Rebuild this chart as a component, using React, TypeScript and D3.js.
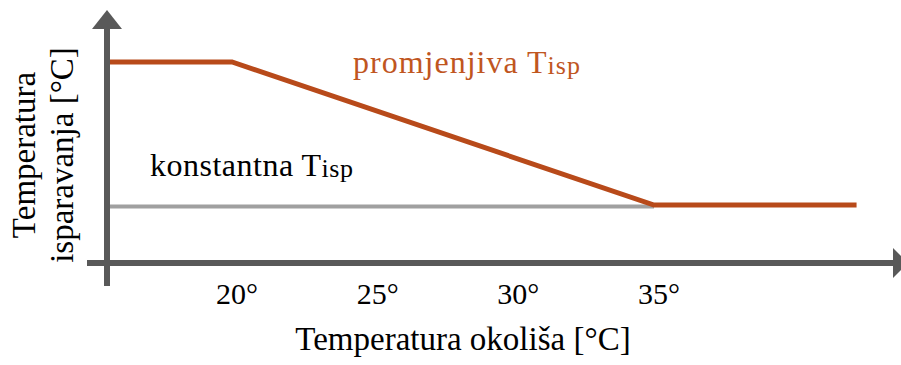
import React from "react";
import * as d3 from "d3";

const xTicks = [20, 25, 30, 35];
const xTickLabels = ["20°", "25°", "30°", "35°"];
const variableX = [15.66, 20, 35, 42.2];
const variableY = [1, 1, 0, 0];
const constantX = [15.66, 35];
const constantY = [-0.01, -0.01];

const W = 901;
const H = 365;
const FONT = "'Liberation Serif', 'Times New Roman', serif";

export default function App() {
  const x = d3.scaleLinear().domain([20, 35]).range([232, 654]);
  const y = d3.scaleLinear().domain([0, 1]).range([205, 62]);
  const line = d3
    .line<[number, number]>()
    .x((d) => x(d[0]))
    .y((d) => y(d[1]));
  const varPts = variableX.map((v, i) => [v, variableY[i]] as [number, number]);
  const constPts = constantX.map((v, i) => [v, constantY[i]] as [number, number]);

  const axisColor = "#595959";
  const orange = "#B84A1A";
  const yAxisX = 107;
  const xAxisY = 263;

  return (
    <svg
      width={W}
      height={H}
      style={{ position: "absolute", left: 0, top: 0, background: "#fff" }}
      fontFamily={FONT}
    >
      {/* data lines */}
      <path d={line(constPts) || ""} fill="none" stroke="#A0A0A0" strokeWidth={4} />
      <path d={line(varPts) || ""} fill="none" stroke={orange} strokeWidth={5} />

      {/* axes */}
      <line x1={yAxisX} x2={yAxisX} y1={286} y2={28} stroke={axisColor} strokeWidth={6} />
      <polygon
        points={`${yAxisX - 15},${29} ${yAxisX + 15},${29} ${yAxisX},${10}`}
        fill={axisColor}
      />
      <line x1={87} x2={893} y1={xAxisY} y2={xAxisY} stroke={axisColor} strokeWidth={6} />
      <polygon
        points={`${893},${xAxisY - 15} ${893},${xAxisY + 15} ${908},${xAxisY}`}
        fill={axisColor}
      />

      {/* tick labels */}
      {xTicks.map((t, i) => (
        <text key={t} x={x(t) - 16} y={304} fontSize={30} fill="#000">
          {xTickLabels[i]}
        </text>
      ))}

      {/* axis titles */}
      <text x={463} y={350} fontSize={33} textAnchor="middle" fill="#000">
        Temperatura okoliša [°C]
      </text>
      <g transform="translate(0,155) rotate(-90)">
        <text x={0} y={35} fontSize={33} textAnchor="middle" fill="#000">
          Temperatura
        </text>
        <text x={0} y={73} fontSize={33} textAnchor="middle" fill="#000">
          isparavanja [°C]
        </text>
      </g>

      {/* annotations */}
      <text x={353} y={73} fontSize={32} letterSpacing={1} fill="#C0561F">
        promjenjiva T
        <tspan fontSize={26} dy={1}>isp</tspan>
      </text>
      <text x={150} y={176} fontSize={32} letterSpacing={0.5} fill="#000">
        konstantna T
        <tspan fontSize={26} dy={1}>isp</tspan>
      </text>
    </svg>
  );
}
